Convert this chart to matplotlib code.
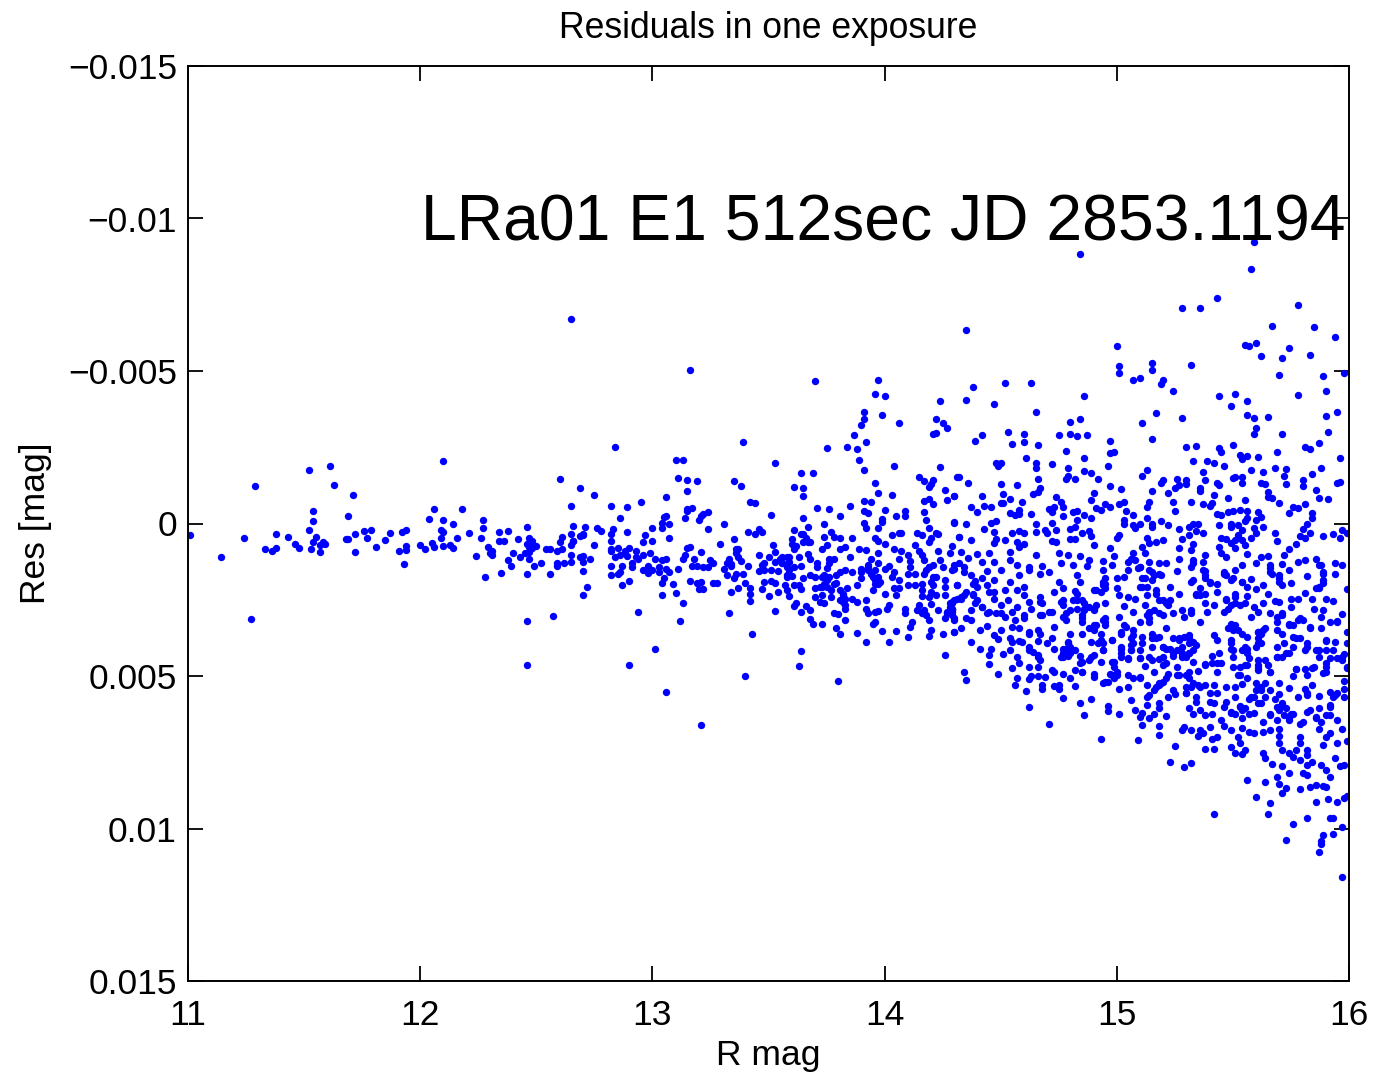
"""Residuals versus R magnitude for one exposure"""
import matplotlib
matplotlib.use("Agg")
import matplotlib.pyplot as plt
import numpy as np

# (R mag, residual in mmag)
bright = [(11.01,.38),(11.14,1.09),(11.24,.49),(11.27,3.13),(11.29,-1.23),(11.33,.85),(11.36,.90),(11.38,.80),(11.38,.34),(11.43,.43),
(11.46,.68),(11.48,.81),(11.52,.22),(11.52,-1.74),(11.54,-.07),(11.54,-.40),(11.55,.45),(11.54,.61),(11.53,.84),(11.57,.93),(11.57,.71),
(11.58,.60),(11.59,.67),(11.61,-1.88),(11.63,-1.25),(11.71,-.95),(11.69,-.25),(11.72,.33),(11.68,.50),(11.69,.50),(11.72,.92),(11.76,.26),
(11.77,.47),(11.79,.22),(11.81,.78),(11.85,.55),(11.87,.32),(11.92,.28),(11.94,.21),(11.91,.91),(11.94,.74),(11.94,.86),(11.93,1.34),
(12.00,.70),(12.02,.84),(12.04,-.16),(12.06,-.48),(12.05,.63),(12.06,.78),(12.10,-2.05),(12.10,-.12),(12.14,0),(12.09,.22),(12.10,.27),
(12.09,.46),(12.10,.74),(12.13,.71),(12.14,.80),(12.16,.46),(12.18,-.47),(12.21,.30),(12.26,.46),(12.27,.16),(12.27,-.11),(12.24,1.08),
(12.28,1.77),(12.29,.77),(12.31,.90),(12.30,.98),(12.31,1.04),(12.34,.28),(12.34,.57),(12.36,.57),(12.38,.25),(12.40,.97),(12.38,1.20),
(12.39,1.38),(12.35,1.61),(12.42,.50),(12.46,.12),(12.47,.48),(12.48,.59),(12.46,.66),(12.47,.77),(12.50,.75),(12.48,.79),(12.47,.94),
(12.45,.98),(12.43,1.11),(12.47,1.18),(12.46,1.64),(12.46,3.20),(12.46,4.64),(12.49,1.38),(12.52,1.31),(12.54,.82),(12.56,.84),(12.56,1.65),
(12.57,3.04),(12.59,1.31),(12.59,1.38),(12.59,.90),(12.61,.82),(12.60,.62),(12.61,.45),(12.60,-1.45),(12.69,-1.18),(12.65,-.57),(12.65,-6.69),
(12.66,.09),(12.65,.35),(12.65,.71),(12.66,.57),(12.70,.38),(12.71,.11),(12.65,1.04),(12.62,1.28),(12.65,1.26),(12.70,1.06),(12.69,1.11),
(12.70,1.26),(12.70,1.55),(12.72,2.09),(12.70,2.34)]

middle_upper = [(13.16,-5.04),(12.84,-2.51),(13.39,-2.66),(13.53,-2.00),(13.10,-2.08),(13.13,-2.07),(13.11,-1.50),(13.15,-1.44),(13.19,-1.39),
(13.15,-1.06),(13.06,-.86),(12.95,-.70),(12.89,-.54),(12.82,-.58),(12.86,-.19),(12.75,-.94),(13.35,-1.38),(13.38,-1.23),(13.42,-.69),(13.44,-.67),
(13.51,-.28),(13.61,-1.19),(13.64,-1.65),(13.69,-1.66),(13.65,-1.17),(13.65,-.91),(13.71,-.52),(13.76,-.47),(13.81,-.23),(13.85,-.58),(13.65,-.19),
(13.74,.03),(13.67,.12),(13.70,-4.67),(13.97,-4.70),(13.96,-4.26),(14.00,-4.17),(13.91,-3.67),(13.91,-3.42),(13.90,-3.23),(13.99,-3.57),(14.06,-3.29),
(13.87,-2.89),(13.92,-2.68),(13.84,-2.52),(13.75,-2.49),(13.88,-2.44),(13.89,-2.07),(13.91,-1.76),(14.04,-1.88),(13.96,-1.34),(13.97,-1.01),(14.03,-.93),
(13.91,-.75),(13.94,-.71),(13.91,-.42),(13.93,-.35),(14.00,-.44),(14.05,-.24),(14.09,-.40),(14.09,-.26),(13.99,-.16),(13.99,-.04),(13.91,-.02),
(13.92,.15),(13.97,.14),(14.24,-4.01),(14.22,-3.41),(14.25,-3.28),(14.27,-3.13),(14.21,-2.95),(14.22,-2.97),(14.24,-1.86),(14.15,-1.51),(14.17,-1.38),
(14.21,-1.42),(14.19,-1.20),(14.20,-1.29),(14.31,-1.51),(14.26,-1.11),(14.30,-.89),(14.27,-.77),(14.17,-.73),(14.19,-.79),(14.21,-.64),(14.17,-.37),
(14.18,-.12),(14.30,-.03),(14.19,.16),(14.14,.31),(14.16,.38),(14.22,.30),(14.23,.35),(14.20,.47),(14.19,.61),(14.32,.44)]

middle_lower = [(12.76,.15),(12.78,.24),(12.75,.71),(12.70,.33),(12.69,.42),(12.66,.57),(12.73,1.15),(12.83,.19),(12.82,.35),(12.82,.57),(12.82,.82),
(12.82,.90),(12.85,.79),(12.89,.28),(12.97,.38),(12.96,.62),(13.00,.57),(13.00,.16),(13.04,.16),(13.04,-.02),(13.05,-.20),(13.06,-.23),(13.07,.01),
(13.07,.47),(13.14,-.19),(13.15,-.48),(13.15,-.42),(13.17,-.50),(13.20,-.11),(13.21,-.24),(13.22,-.31),(13.24,-.38),(13.24,.19),(13.31,.01),(13.41,.28),
(13.44,.36),(13.46,.17),(13.47,.28),(13.35,.51),(13.29,.68),(13.15,.79),(13.16,.77),(13.61,.21),(13.60,.52),(13.60,.66),(13.62,.73),(13.61,.85),
(13.64,.36),(13.65,.34),(13.66,.49),(13.65,.60),(13.67,.60),(13.68,.62),(13.52,.70),(13.53,.95),(13.46,1.03),(13.50,1.09),(13.36,.82),(13.37,.85),
(13.36,.96),(13.37,1.09),(13.38,1.22),(13.33,1.18),(13.41,1.38),(13.34,1.33),(13.32,1.29),(13.31,1.48),(13.34,1.40),(13.32,1.69),(13.35,1.80),
(13.36,1.66),(13.39,1.66),(13.40,1.95),(13.37,2.13),(13.34,2.26),(13.42,2.10),(13.42,2.30),(13.42,2.55),(13.33,2.95),(13.43,3.63),(13.40,4.99),
(13.21,6.61),(13.06,5.53),(12.90,4.65),(13.01,4.12),(13.12,3.20),(12.94,2.89),(13.13,2.60),(13.10,2.27),(13.04,2.34),(13.09,1.97),(13.04,1.96),
(13.05,1.78),(12.87,2.03),(12.90,1.88),(12.82,1.70),(12.82,1.40),(12.85,1.66),(12.86,1.58),(12.87,1.38),(12.91,1.29),(12.91,1.42),(12.89,1.07),
(12.86,1.04),(12.84,1.11),(12.88,.89),(12.90,.79),(12.93,.90),(12.93,1.09),(12.94,1.18),(12.96,1.03),(12.99,.98),(13.01,1.15),(13.04,1.20),(13.06,1.17),
(12.96,1.51),(12.98,1.40),(12.98,1.62),(13.00,1.53),(13.03,1.42),(13.03,1.58),(13.06,1.49),(13.07,1.58),(13.11,1.48),(13.14,1.04),(13.13,1.15),
(13.18,1.17),(13.17,1.38),(13.19,1.39),(13.21,.95),(13.22,1.44),(13.24,1.42),(13.25,1.20),(13.26,1.28),(13.16,1.88),(13.19,1.95),(13.21,1.92),
(13.20,2.16),(13.22,2.15),(13.26,1.96),(13.28,1.96),(13.47,1.37),(13.48,1.31),(13.46,1.55),(13.48,1.51),(13.51,1.51),(13.54,1.55),(13.53,1.26),
(13.56,1.09),(13.56,1.29),(13.58,1.09),(13.59,1.26),(13.58,1.42),(13.61,1.42),(13.64,1.40),(13.63,1.09),(13.67,1.01),(13.68,1.18),(13.71,1.31),
(13.71,1.42),(13.76,1.15),(13.78,1.18),(13.85,1.11),(13.76,1.31),(13.75,1.45),(13.83,1.51),(13.86,1.58),(13.90,1.48),(13.90,1.58),(13.93,1.37),
(13.94,1.15),(13.97,1.31),(14.00,1.48),(14.02,1.40),(14.04,1.58),(14.10,1.02),(14.11,1.23),(14.11,1.42),(14.10,1.64),(14.13,1.64),(14.16,1.04),
(14.17,1.20),(14.19,1.42),(14.21,1.37),(14.24,1.20),(14.25,1.42),(14.30,1.48),(14.29,.74),(14.23,.90),(14.28,.98),(14.13,.72),(14.15,.90),
(13.73,.82),(13.75,.71),(13.74,.44),(13.77,.27),(13.78,.44),(13.81,.46),(13.86,.46),(13.81,.82),(13.83,.77),(13.89,.84),(13.92,.86),(13.96,.49),
(13.97,.57),(14.00,.66),(13.97,.96),(14.03,.38),(14.06,.30),(14.07,.30),(14.04,.82),(14.07,.90),(14.06,1.17),(13.51,1.89),(13.48,1.92),(13.47,2.16),
(13.50,2.38),(13.54,2.24),(13.53,1.95),(13.58,1.77),(13.60,1.73),(13.57,2.02),(13.58,2.19),(13.59,2.38),(13.61,2.02),(13.63,2.00),(13.64,2.16),
(13.65,1.80),(13.68,1.69),(13.70,1.75),(13.74,1.69),(13.79,1.69),(13.81,1.58),(13.70,2.13),(13.73,2.08),(13.75,1.86),(13.79,1.95),(13.77,2.19),
(13.81,2.19),(13.84,2.13),(13.88,2.00),(13.90,1.80),(13.95,1.75),(13.97,1.97),(13.95,2.19),(14.00,2.30),(14.03,1.75),(14.06,1.86),(14.04,2.10),
(14.06,2.10),(14.05,2.35),(14.10,2.02),(14.13,2.02),(14.16,1.97),(14.16,2.19),(14.16,2.38),(14.19,2.40),(14.22,1.75),(14.21,2.02),(14.20,2.24),
(14.26,1.84),(14.26,2.08),(14.22,2.35),(14.26,2.35),(14.31,2.02),(13.70,2.40),(13.73,2.35),(13.74,2.60),(13.72,2.57),(13.77,2.40),(13.82,2.35),
(13.82,2.57),(13.86,2.46),(13.88,2.57),(13.83,2.79),(13.92,2.51),(13.92,2.79),(13.93,2.95),(13.96,2.90),(13.97,2.86),(13.96,3.22),(13.95,3.31),
(14.01,2.79),(14.02,2.66),(14.09,2.79),(14.09,2.92),(14.15,2.68),(14.14,2.84),(14.17,2.84),(14.16,2.95),(14.18,3.01),(14.19,3.15),(14.20,2.64),
(14.23,2.84),(14.28,2.62),(14.27,2.90),(14.31,2.46),(14.29,3.01),(14.26,3.11),(14.30,3.17),(13.53,2.86),(13.62,2.60),(13.61,2.70),(13.64,2.90),
(13.66,2.71),(13.68,2.84),(13.68,3.14),(13.69,3.30),(13.73,3.31),(13.78,2.95),(13.80,2.97),(13.83,3.17),(13.79,3.44),(13.81,3.61),(13.88,3.58),
(13.92,3.90),(13.99,3.51),(14.02,3.89),(14.05,3.54),(14.10,3.73),(14.11,3.39),(14.12,3.23),(14.19,3.70),(14.20,3.48),(14.25,3.61),(14.30,3.55),
(14.26,4.32),(13.64,4.17),(13.63,4.66),(13.80,5.17)]

middle_extra = [(13.75,1.80),(13.73,1.75),(13.96,1.86),(13.96,1.97),(13.93,1.53),(13.94,1.64),(13.93,1.42),(13.96,1.53),(13.97,1.75),(13.98,1.91),(14.18,1.53),
(14.19,1.42),(14.17,1.64),(14.20,1.91),(14.21,1.75),(14.28,2.73),(14.29,2.79),(14.29,2.57),(14.27,2.95),(14.29,2.90),(13.59,1.53),(13.58,1.69),(13.56,1.31),
(13.55,1.15),(13.59,1.09),(13.76,1.75),(13.74,1.97),(13.72,2.08),(13.75,2.08),(13.78,1.97),(13.82,2.30),(13.83,2.46),(13.81,2.51),(13.83,2.68)]

faint_upper = [(14.84,-8.83),(15.59,-9.22),(15.58,-8.34),(15.43,-7.38),(15.28,-7.05),(15.36,-7.05),(15.78,-7.18),(15.67,-6.48),(15.85,-6.43),(15.94,-6.10),
(14.35,-6.33),(15.00,-5.83),(15.55,-5.86),(15.57,-5.83),(15.60,-5.92),(15.74,-5.76),(15.62,-5.50),(15.71,-5.41),(15.83,-5.54),(15.01,-5.17),(15.01,-4.92),
(15.15,-5.25),(15.15,-5.02),(15.32,-5.20),(15.07,-4.71),(15.10,-4.78),(15.20,-4.69),(15.19,-4.56),(15.70,-4.88),(15.89,-4.84),(15.98,-4.92),(15.24,-4.33),
(14.38,-4.49),(14.52,-4.60),(14.63,-4.60),(14.35,-4.05),(14.47,-3.92),(14.86,-4.18),(14.65,-3.67),(15.44,-4.17),(15.51,-4.24),(15.49,-3.85),(15.56,-4.03),
(15.78,-4.20),(15.90,-4.33),(14.84,-3.44),(14.80,-3.33),(15.17,-3.62),(15.11,-3.31),(15.28,-3.46),(15.56,-3.56),(15.59,-3.47),(15.65,-3.49),(15.90,-3.54),
(15.95,-3.64),(15.60,-3.14),(15.59,-2.95),(15.71,-2.92),(15.91,-2.99),(14.53,-3.01),(14.42,-2.89),(14.39,-2.70),(14.60,-2.92),(14.60,-2.68),(14.55,-2.62),
(14.66,-2.57),(14.75,-2.91),(14.80,-2.92),(14.83,-2.87),(14.87,-2.89),(14.97,-2.72),(15.15,-2.77),(14.97,-2.32),(14.99,-2.36),(14.78,-2.37),(14.86,-2.16),
(14.61,-2.14),(15.30,-2.51),(15.34,-2.54),(15.44,-2.49),(15.45,-2.33),(15.50,-2.58),(15.87,-2.63),(15.81,-2.50),(15.83,-2.45),(15.69,-2.35),(15.53,-2.24),
(15.54,-2.13),(15.56,-2.22),(15.61,-2.19),(15.33,-2.06),(15.39,-2.06),(15.42,-1.97),(15.46,-1.89),(15.96,-2.14),(14.48,-1.97),(14.50,-1.97),(14.49,-1.90),
(14.65,-2.00),(14.65,-1.83),(14.72,-1.96),(14.96,-1.89),(14.79,-1.81),(15.13,-1.76),(15.37,-1.69),(15.58,-1.74),(15.63,-1.68),(15.68,-1.82),(15.73,-1.78),
(15.88,-1.83),(14.86,-1.72),(14.89,-1.66),(15.11,-1.56),(15.72,-1.55),(15.84,-1.61),(14.32,-1.52),(14.36,-1.33),(14.50,-1.31),(14.57,-1.25),(14.66,-1.45),
(14.78,-1.45),(14.79,-1.55),(14.82,-1.45),(14.92,-1.47),(14.97,-1.24),(15.02,-1.12),(15.15,-1.08),(15.19,-1.34),(15.20,-1.44),(15.25,-1.16),(15.26,-1.46),
(15.27,-1.25),(15.30,-1.43),(15.30,-1.30),(15.22,-1.00),(15.36,-1.16),(15.36,-1.08),(15.38,-1.42),(15.43,-1.34),(15.44,-1.25),(15.50,-1.50),(15.51,-1.52),
(15.54,-1.54),(15.54,-1.33),(15.62,-1.34),(15.64,-1.31),(15.73,-1.30),(15.80,-1.43),(15.80,-1.23),(15.95,-1.33),(15.96,-1.37),(15.86,-1.09),(15.65,-1.04),
(15.42,-.93),(14.64,-.96),(14.66,-1.04),(14.67,-1.15),(14.51,-.98),(14.42,-.90),(14.30,-.90),(14.54,-.81),(14.50,-.68),(14.46,-.53),(14.51,-.68),(14.59,-.72),
(14.74,-.86),(14.76,-.72),(14.77,-.55),(14.90,-.99),(14.89,-.77),(15.03,-.69),(15.01,-.65),(15.14,-.72),(15.13,-.55),(15.24,-.72),(15.32,-.72),(15.37,-.63),
(15.41,-.66),(15.40,-.57),(15.48,-.83),(15.55,-.78),(15.65,-.86),(15.67,-.83),(15.70,-.67),(15.81,-.64),(15.87,-.83),(15.91,-.81),(15.76,-.55),(15.78,-.50),
(14.37,-.53),(14.43,-.58),(14.40,-.37),(14.54,-.33),(14.56,-.28),(14.58,-.44),(14.58,-.31),(14.63,-.31),(14.71,-.46),(14.73,-.53),(14.72,-.38),(14.77,-.24),
(14.81,-.39),(14.83,-.40),(14.86,-.29),(14.83,-.13),(14.89,-.17),(14.91,-.51),(14.93,-.43),(14.95,-.64),(14.97,-.53),(15.04,-.42),(15.07,-.29),(15.13,-.19),
(15.25,-.42),(15.43,-.32),(15.45,-.28),(15.48,-.37),(15.50,-.41),(15.53,-.44),(15.56,-.41),(15.56,-.19),(15.55,-.08),(15.61,-.39),(15.62,-.20),(15.60,-.12),
(15.74,-.33),(15.84,-.36),(15.84,-.17),(14.30,-.04),(14.35,.02),(14.46,-.03),(14.48,-.07),(14.43,.18),(14.47,.28),(14.55,.30),(14.58,.24),(14.60,.32),
(14.65,.02),(14.65,.27),(14.69,.22),(14.70,.32),(14.72,-.03),(14.74,.22),(14.80,.17),(14.82,.11),(14.85,.30),(14.88,.24),(14.89,.40),(15.03,-.12),(15.03,.03),
(15.07,.05),(15.08,.16),(15.10,.01),(15.15,.02),(15.15,.13),(15.19,-.07),(15.22,.05),(15.27,.17),(15.31,.10),(15.33,0),(15.35,0),(15.34,.24),(15.31,.38),
(15.37,.30),(15.44,.04),(15.49,.02),(15.49,.10),(15.52,.05),(15.54,.22),(15.52,.38),(15.59,.16),(15.60,.32),(15.63,.13),(15.68,.30),(15.80,.19),(15.82,.02),
(15.83,.32),(15.79,.41),(15.89,.41),(15.93,.36),(15.97,.21),(15.99,.32),(15.96,.49),(14.32,.43),(14.37,.55),(14.48,.52),(14.47,.65),(14.52,.55),(14.57,.61),
(14.60,.67),(14.58,.78),(14.72,.57),(14.74,.61),(14.80,.52),(14.82,.52),(14.90,.72),(14.97,.81),(15.00,.49),(15.01,.38),(15.13,.49),(15.14,.65),(15.17,.62),
(15.20,.55),(15.11,.76),(15.28,.50),(15.33,.68),(15.27,.79),(15.32,.87),(15.45,.49),(15.47,.52),(15.44,.76),(15.49,.65),(15.51,.54),(15.54,.55),(15.55,.70),
(15.51,.81),(15.58,.46),(15.69,.57),(15.77,.67),(15.74,.82),(15.81,.46)]

faint_lower = [(14.33,.93),(14.40,1.00),(14.45,.98),(14.54,.93),(14.65,1.04),(14.75,.98),(14.79,1.04),(14.84,1.06),(14.88,1.20),(14.99,1.06),(15.07,.96),
(15.12,.96),(15.27,1.18),(15.38,1.04),(15.45,.98),(15.56,1.00),(15.62,1.11),(15.65,1.07),(15.72,1.04),(15.86,1.18),(14.30,1.36),(14.36,1.14),(14.42,1.26),
(14.47,1.26),(14.54,1.20),(14.57,1.36),(14.62,1.42),(14.68,1.40),(14.76,1.29),(14.81,1.36),(14.87,1.40),(14.94,1.22),(14.98,1.36),(15.05,1.53),(15.06,1.18),
(15.10,1.42),(15.14,1.26),(15.18,1.31),(15.21,1.29),(15.33,1.31),(15.37,1.26),(15.47,1.11),(15.54,1.36),(15.60,1.29),(15.66,1.36),(15.71,1.33),(15.78,1.26),
(15.81,1.20),(15.87,1.36),(15.94,1.31),(15.97,1.36),(14.34,1.58),(14.37,1.69),(14.44,1.55),(14.50,1.53),(14.58,1.69),(14.62,1.53),(14.67,1.66),(14.71,1.58),
(14.83,1.69),(14.94,1.53),(15.15,1.58),(15.19,1.69),(15.26,1.55),(15.38,1.55),(15.46,1.64),(15.66,1.58),(15.74,1.53),(15.82,1.72),(15.89,1.64),(15.94,1.66),
(14.31,2.02),(14.39,1.88),(14.42,1.80),(14.47,1.86),(14.54,1.91),(14.60,2.07),(14.75,1.91),(14.77,2.13),(14.84,1.91),(14.94,1.91),(15.00,1.80),(15.03,1.75),
(15.11,1.80),(15.15,1.86),(15.32,1.91),(15.38,1.80),(15.49,1.86),(15.54,1.91),(15.58,1.83),(15.70,1.80),(15.75,1.96),(15.89,1.96),(15.99,2.16),(14.35,2.24),
(14.38,2.30),(14.47,2.24),(14.52,2.19),(14.57,2.19),(14.67,2.40),(14.73,2.24),(14.82,2.21),(14.90,2.19),(14.95,2.13),(15.00,2.13),(15.01,2.35),(15.10,2.07),
(15.13,2.35),(15.17,2.19),(15.23,2.07),(15.27,2.30),(15.34,2.30),(15.40,1.96),(15.43,2.24),(15.51,2.30),(15.56,2.38),(15.60,2.16),(15.63,2.02),(15.65,2.30),
(15.81,2.27),(15.86,2.13),(14.29,2.62),(14.33,2.40),(14.39,2.62),(14.47,2.46),(14.53,2.51),(14.60,2.35),(14.62,2.57),(14.76,2.57),(14.83,2.51),(14.86,2.62),
(14.95,2.62),(15.05,2.40),(15.08,2.46),(15.18,2.51),(15.21,2.62),(15.23,2.51),(15.36,2.35),(15.38,2.62),(15.47,2.51),(15.51,2.62),(15.63,2.60),(15.68,2.53),
(15.70,2.59),(15.75,2.49),(15.78,2.49),(15.84,2.49),(15.90,2.49),(15.93,2.55),(14.29,2.84),(14.37,2.84),(14.42,2.73),(14.50,2.68),(14.57,2.75),(14.63,2.79),
(14.68,2.62),(14.77,2.68),(14.86,2.84),(14.91,2.68),(15.03,2.71),(15.12,2.66),(15.28,2.82),(15.32,2.84),(15.42,2.68),(15.48,2.79),(15.59,2.73),(15.75,2.75),
(15.85,2.79),(15.89,2.82),(14.30,3.11),(14.35,3.11),(14.44,2.95),(14.48,2.93),(14.52,3.06),(14.56,3.17),(14.60,3.00),(14.67,3.00),(14.71,2.89),(14.78,2.95),
(14.85,3.00),(14.90,2.79),(14.95,3.11),(15.01,3.06),(15.07,2.89),(15.14,2.95),(15.20,3.00),(15.24,2.95),(15.32,2.95),(15.39,2.89),(15.46,2.89),(15.61,2.89),
(15.66,2.95),(15.71,2.95),(15.88,3.06),(15.97,2.98),(14.33,3.44),(14.41,3.50),(14.37,3.17),(14.44,3.37),(14.50,3.50),(14.58,3.44),(14.66,3.50),(14.73,3.39),
(14.78,3.17),(14.85,3.22),(14.91,3.33),(14.95,3.22),(15.03,3.33),(15.14,3.22),(15.21,3.44),(15.29,3.06),(15.36,3.22),(15.49,3.33),(15.58,3.06),(15.69,3.22),
(15.74,3.33),(15.79,3.11),(15.83,3.44),(15.88,3.42),(15.92,3.22),(15.95,3.19),(14.30,3.55),(14.47,3.66),(14.54,3.77),(14.62,3.61),(14.67,3.61),(14.72,3.77),
(14.80,3.61),(14.85,3.61),(14.90,3.50),(14.93,3.61),(15.02,3.61),(15.07,3.66),(15.16,3.71),(15.24,3.77),(15.31,3.66),(15.42,3.66),(15.50,3.50),(15.61,3.55),
(15.69,3.50),(15.79,3.77),(15.90,3.84),(15.94,3.88),(15.99,3.55),(14.37,3.88),(14.49,3.80),(14.58,3.84),(14.66,3.84),(14.70,3.91),(14.79,3.93),(14.89,3.88),
(14.94,3.93),(14.98,3.82),(15.07,3.93),(15.17,3.77),(15.20,4.04),(15.27,3.77),(15.34,3.98),(15.43,3.82),(15.56,4.10),(15.61,3.93),(15.72,3.91),(15.77,3.77),
(15.82,4.04),(15.90,4.15),(15.99,3.93),(14.41,4.10),(14.46,4.10),(14.54,4.15),(14.62,4.15),(14.73,4.10),(14.77,4.10),(14.82,4.15),(14.94,4.15),(15.02,4.10),
(15.06,4.15),(15.15,4.04),(15.21,4.10),(15.28,4.26),(15.31,4.26),(15.41,4.35),(15.49,4.10),(15.54,4.15),(15.69,4.04),(15.81,4.15),(15.87,4.15),(15.93,4.15),
(14.45,4.32),(14.51,4.28),(14.57,4.37),(14.64,4.21),(14.66,4.37),(14.76,4.39),(14.79,4.35),(14.84,4.35),(14.90,4.32),(15.02,4.37),(15.05,4.42),(15.10,4.42),
(15.14,4.37),(15.20,4.37),(15.24,4.35),(15.28,4.37),(15.33,4.54),(15.44,4.26),(15.50,4.37),(15.73,4.26),(15.98,4.29),(15.69,4.39),(15.87,4.37),(14.45,4.61),
(14.55,4.75),(14.58,4.59),(14.62,4.69),(14.66,4.70),(14.84,4.56),(14.88,4.48),(14.93,4.54),(14.99,4.54),(15.05,4.45),(15.12,4.67),(15.20,4.64),(15.26,4.70),
(15.38,4.61),(15.45,4.59),(15.56,4.64),(15.65,4.64),(15.77,4.78),(15.85,4.72),(15.90,4.70),(15.97,4.48),(15.99,4.72)]

faint_extra = [(14.77,4.26),(14.78,4.10),(14.80,4.04),(14.77,4.37),(14.80,4.26),(14.79,3.88),(15.49,3.28),(15.50,3.44),(15.52,3.50),(15.54,3.61),(15.48,3.44),
(15.51,3.33),(15.56,3.72),(15.61,3.55),(15.64,3.44),(15.61,3.77),(15.62,3.93),(15.60,4.04),(15.26,4.15),(15.28,4.32),(15.30,4.37),(15.31,4.26),(15.33,4.15),
(15.28,4.04),(15.24,4.26),(15.27,3.83),(15.29,3.72),(15.31,3.77),(15.33,3.88),(15.31,3.93),(14.94,2.02),(14.95,1.80),(14.93,2.24),(14.91,2.19),(14.95,1.97),
(14.83,2.30),(14.81,2.51),(14.85,2.51),(14.86,2.79),(14.88,2.73),(14.90,2.84),(15.14,2.90),(15.16,2.84),(15.18,2.95),(15.13,3.00),(15.10,3.22),(15.14,3.11),
(15.04,3.39),(15.02,3.55),(15.07,3.50),(15.06,3.77),(15.06,3.99),(15.06,4.15),(15.02,4.04),(15.02,4.26),(15.11,3.72),(15.11,3.93),(15.10,4.15),(15.10,4.42),
(15.15,3.61),(15.15,3.77),(15.18,3.72),(15.20,4.04),(15.23,4.10),(15.87,2.08),(15.89,1.86),(15.89,1.58),(15.88,1.36),(15.87,2.13),(15.70,1.69),(15.70,1.91),
(15.71,2.02),(15.66,1.47),(15.67,1.64),(15.37,1.53),(15.38,1.69),(15.40,1.91),(15.43,1.97),(15.46,1.58),(15.47,1.69),(15.50,1.80),(15.51,1.53),(15.54,1.91),
(15.56,2.08),(15.47,2.46),(15.49,2.68),(15.51,2.40),(15.53,2.68),(15.55,2.62),(15.33,1.20),(15.32,1.42),(15.33,1.86),(15.36,2.13),(15.34,2.35),(15.38,2.30),
(15.14,1.53),(15.16,1.69),(15.18,1.64),(15.12,1.80),(15.11,2.08),(15.13,2.08),(15.17,2.30),(15.20,2.51),(15.22,2.68),(15.05,1.26),(15.08,1.20),(15.09,1.47),
(15.10,1.42),(14.32,1.31),(14.29,1.53),(14.34,1.42),(14.38,1.97),(14.40,2.08),(14.44,2.02),(14.45,2.24),(14.38,2.35),(14.40,2.51),(14.42,2.73),(14.45,2.90),
(14.30,2.51),(14.29,2.79),(14.34,2.35),(14.33,2.46),(14.50,2.95),(14.55,2.89),(14.55,3.39),(14.60,3.11),(14.62,3.55),(14.68,3.00),(14.72,2.89),(14.67,2.57),
(14.77,2.51),(14.80,2.84),(14.77,3.06),(14.83,2.79),(14.85,3.11),(14.88,3.44),(14.90,3.33),(14.94,3.17),(14.95,3.33),(14.98,3.82),(14.93,3.82),(14.92,3.93),
(14.94,4.15),(14.98,4.54),(14.99,4.70),(15.00,4.86),(14.98,4.97),(14.95,5.19),(14.89,4.37),(14.85,4.54),(14.85,4.86),(14.72,4.81),(14.67,4.48),(14.66,4.32),
(14.62,4.04),(14.59,3.88),(14.55,3.88),(15.50,4.15),(15.49,3.93),(15.49,3.82),(15.55,4.04),(15.56,4.26),(15.57,4.42),(15.55,4.64),(15.61,4.48),(15.64,4.48),
(15.66,4.86),(15.61,4.75),(15.52,4.97),(15.74,4.26),(15.71,4.37),(15.69,4.37),(15.76,4.04),(15.76,3.72),(15.82,3.93),(15.86,4.15),(15.90,4.59),(15.92,4.42),
(15.90,4.86),(15.95,4.42),(15.99,4.75),(15.97,4.37),(15.90,3.82),(15.95,3.22),(15.78,3.17),(15.80,3.17),(15.83,3.39),(15.74,3.28),(15.76,3.33),(15.71,3.61),
(15.69,3.06),(15.71,3.00),(15.63,3.50),(15.62,3.61),(15.60,5.46),(15.62,5.36),(15.66,5.46),(15.64,5.68),(15.62,5.90),(15.60,5.24),(15.57,5.74),(15.59,5.68),
(15.53,6.01),(15.54,6.12),(15.57,6.23),(15.49,6.17),(15.51,6.23),(15.73,6.06),(15.75,6.23),(15.74,6.39),(15.83,6.12),(15.86,6.34),(15.88,6.50),(15.92,6.28),
(15.93,5.68),(15.95,5.57),(15.92,5.95),(15.82,5.63),(15.81,5.41),(15.71,5.95),(15.70,6.12),(15.69,6.01),(15.66,6.23),(15.27,4.97),(15.30,4.97),(15.31,5.08),
(15.33,5.24),(15.36,5.36),(15.32,5.36),(15.30,5.57),(15.18,5.24),(15.17,5.36),(15.20,5.19),(15.14,5.63),(15.10,5.08),(15.21,4.59),(15.18,4.43),(15.15,4.48),
(15.38,4.64),(15.41,4.59),(15.43,4.59),(15.50,4.70),(15.53,4.70),(15.61,4.64)]

faint_tail = [(14.34,4.87),(14.35,5.12),(14.49,4.92),(14.57,5.07),(14.63,5.00),(14.62,5.11),(14.66,5.00),(14.69,5.04),(14.73,4.86),(14.77,4.92),(14.80,5.08),
(14.82,4.79),(14.85,4.86),(14.90,4.94),(14.90,5.03),(14.97,4.92),(15.00,4.97),(15.05,4.98),(15.07,5.05),(15.10,5.03),(15.16,4.86),(15.21,5.08),(15.22,4.94),
(15.26,4.97),(15.31,4.86),(15.35,4.83),(15.43,4.88),(15.53,4.97),(15.56,5.05),(15.61,4.79),(15.66,4.86),(15.76,5.00),(15.77,4.78),(15.81,4.78),(15.82,4.98),
(15.84,4.73),(15.89,4.89),(15.98,5.16),(14.56,5.30),(14.61,5.49),(14.68,5.30),(14.68,5.43),(14.73,5.33),(14.75,5.30),(14.75,5.44),(14.82,5.32),(14.77,5.73),
(14.89,5.74),(14.84,5.90),(14.62,6.02),(14.71,6.56),(14.86,6.29),(14.94,5.22),(14.96,5.20),(14.99,5.08),(15.01,5.43),(15.05,5.37),(15.13,5.30),(15.18,5.30),
(15.19,5.22),(15.16,5.46),(15.24,5.46),(15.25,5.59),(15.22,5.70),(15.13,5.70),(15.06,5.80),(14.96,5.98),(14.96,6.16),(15.01,6.24),(15.08,6.10),(15.13,5.95),
(15.18,5.88),(15.18,6.06),(15.11,6.21),(15.10,6.34),(15.14,6.38),(15.16,6.23),(15.21,6.31),(15.11,6.61),(15.18,6.64),(15.18,6.92),(14.93,7.06),(15.09,7.10),
(15.30,5.36),(15.30,5.55),(15.34,5.68),(15.34,5.85),(15.33,6.23),(15.31,6.06),(15.36,6.10),(15.38,6.28),(15.41,6.23),(15.40,5.85),(15.42,5.90),(15.40,5.57),
(15.43,5.55),(15.35,5.30),(15.38,5.30),(15.42,5.28),(15.47,5.36),(15.51,5.36),(15.54,5.26),(15.51,5.68),(15.47,5.85),(15.46,6.01),(15.53,5.99),(15.49,6.21),
(15.55,6.06),(15.59,6.21),(15.54,6.39),(15.58,5.68),(15.61,5.90),(15.62,5.46),(15.64,5.24),(15.70,5.24),(15.74,5.38),(15.78,5.68),(15.68,5.74),(15.70,5.59),
(15.71,5.90),(15.82,5.57),(15.84,5.28),(15.87,5.65),(15.92,5.54),(15.94,5.63),(15.92,6.01),(15.98,5.68),(15.98,5.41),(15.87,6.06),(15.82,6.17),(15.76,6.23),
(15.72,6.28),(15.66,6.28),(15.69,6.44),(15.63,6.50),(15.74,6.44),(15.79,6.58),(15.80,6.50),(15.86,6.39),(15.90,6.28),(15.95,6.44),(15.97,6.75),(15.92,6.88),
(15.45,6.45),(15.46,6.64),(15.49,6.77),(15.54,6.69),(15.57,6.83),(15.59,6.88),(15.63,6.83),(15.66,6.77),(15.70,6.75),(15.70,6.97),(15.87,6.75),(15.28,6.77),
(15.29,6.67),(15.32,6.77),(15.35,6.97),(15.36,6.77),(15.37,6.88),(15.40,6.67),(15.25,7.30),(15.41,7.08),(15.43,7.01),(15.52,6.99),(15.53,7.19),(15.38,7.39),
(15.42,7.39),(15.49,7.32),(15.51,7.52),(15.54,7.56),(15.55,7.43),(15.63,7.51),(15.64,7.70),(15.70,7.19),(15.71,7.43),(15.74,7.52),(15.77,7.41),(15.76,7.65),
(15.79,7.74),(15.79,6.99),(15.79,7.19),(15.82,7.43),(15.82,7.59),(15.82,7.92),(15.84,7.81),(15.88,7.92),(15.89,7.27),(15.90,6.99),(15.95,7.19),(15.99,7.12),
(15.94,7.70),(15.96,7.95),(15.98,7.92),(15.23,7.81),(15.29,7.97),(15.32,7.85),(15.67,7.90),(15.71,7.95),(15.74,8.18),(15.80,8.19),(15.82,8.24),(15.90,8.08),
(15.92,8.31),(15.69,8.30),(15.64,8.47),(15.56,8.42),(15.70,8.55),(15.73,8.67),(15.71,8.84),(15.79,8.69),(15.83,8.63),(15.86,8.58),(15.89,8.61),(15.90,8.64),
(15.60,8.96),(15.66,9.16),(15.86,9.12),(15.91,9.02),(15.95,9.13),(15.98,9.01),(15.99,8.94),(15.42,9.52),(15.65,9.52),(15.82,9.66),(15.76,9.85),(15.92,9.67),
(15.93,9.67),(15.97,9.94),(15.93,10.17),(15.89,10.22),(15.73,10.37),(15.88,10.40),(15.88,10.51),(15.87,10.77),(15.97,11.60)]

x_ticks = [11, 12, 13, 14, 15, 16]
y_ticks = [-0.015, -0.01, -0.005, 0, 0.005, 0.01, 0.015]
y_ticklabels = ["\u22120.015", "\u22120.01", "\u22120.005", "0", "0.005", "0.01", "0.015"]

plt.rcParams["font.family"] = ["Liberation Sans", "DejaVu Sans"]

groups = [bright, middle_upper, middle_lower, middle_extra, faint_upper, faint_lower, faint_extra, faint_tail]
pts = np.array([p for g in groups for p in g])
r_mag = pts[:, 0]
res = pts[:, 1] / 1000.

fig = plt.figure(figsize=(13.75, 10.76), dpi=100)
ax = fig.add_axes([188/1375, 1 - 981/1076, (1349-188)/1375, (981-66)/1076])

ax.plot(r_mag, res, "o", color="#0000ff", ms=5.3, mew=0)

ax.set_xlim(11, 16)
ax.set_ylim(0.015, -0.015)
ax.set_xticks(x_ticks)
ax.set_yticks(y_ticks)
ax.set_yticklabels(y_ticklabels)
ax.tick_params(direction="in", length=11, width=1.3, top=True, right=True, labelsize=25.5)
ax.tick_params(axis="x", pad=13)
ax.tick_params(axis="y", pad=8)
for sp in ax.spines.values():
    sp.set_linewidth(1.4)

ax.set_title("Residuals in one exposure", fontsize=25.6, pad=20)
ax.set_xlabel("R mag", fontsize=25.5, labelpad=5)
ax.set_ylabel("Res [mag]", fontsize=25.5, labelpad=11)
ax.text(15.985, -0.00984, "LRa01 E1 512sec JD 2853.1194", fontsize=46.3, ha="right", va="center")

fig.savefig("out.png", dpi=100)
